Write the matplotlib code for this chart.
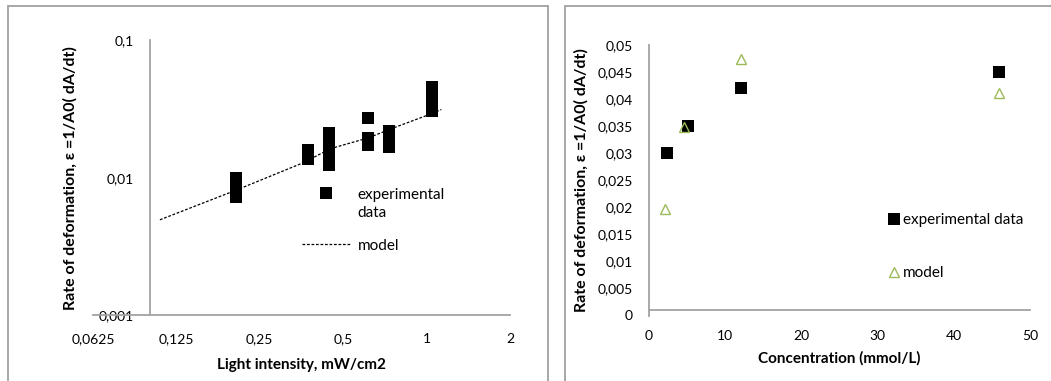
import matplotlib
matplotlib.use("Agg")
import matplotlib.pyplot as plt
from matplotlib.lines import Line2D
from matplotlib.patches import Rectangle

plt.rcParams['font.family'] = ['Lato', 'DejaVu Sans']
plt.rcParams['font.size'] = 10

# ---- Left panel: rate of deformation vs light intensity (log-log) ----
intensity_exp = [0.205, 0.205, 0.205,
                 0.373, 0.373,
                 0.446, 0.446, 0.446, 0.446,
                 0.616, 0.616, 0.616,
                 0.732, 0.732, 0.732,
                 1.05, 1.05, 1.05, 1.05]
rate_exp = [0.00988, 0.00846, 0.00723,
            0.0159, 0.0138,
            0.0212, 0.0180, 0.0147, 0.0124,
            0.0271, 0.0195, 0.0172,
            0.0220, 0.0193, 0.0168,
            0.0461, 0.0404, 0.0352, 0.0307]

intensity_model = [0.109, 0.205, 0.36, 0.45, 0.62, 0.73, 1.0, 1.13]
rate_model = [0.00494, 0.00811, 0.0129, 0.0163, 0.0196, 0.0224, 0.0284, 0.0314]

intensity_ticks = [0.0625, 0.125, 0.25, 0.5, 1, 2]
intensity_ticklabels = ['0,0625', '0,125', '0,25', '0,5', '1', '2']
rate_log_ticks = [0.001, 0.01, 0.1]
rate_log_ticklabels = ['0,001', '0,01', '0,1']

# ---- Right panel: rate of deformation vs concentration ----
conc_exp = [2.4, 5.15, 12.1, 46.0]
rate_conc_exp = [0.0300, 0.0350, 0.0420, 0.0451]
conc_model = [2.1, 4.7, 12.1, 46.0]
rate_conc_model = [0.0196, 0.0349, 0.0474, 0.0411]

conc_ticks = [0, 10, 20, 30, 40, 50]
rate_lin_ticks = [0, 0.005, 0.01, 0.015, 0.02, 0.025, 0.03, 0.035, 0.04, 0.045, 0.05]
rate_lin_ticklabels = ['0', '0,005', '0,01', '0,015', '0,02', '0,025', '0,03',
                       '0,035', '0,04', '0,045', '0,05']

ylabel_text = 'Rate of deformation, ε =1/A0( dA/dt)'
AXIS_GRAY = '#a3a3a3'
FRAME_GRAY = '#a0a0a0'
MODEL_GREEN = '#9bbb59'
LABEL_SIZE = 11
LEGEND_SIZE = 11

W, H = 1051, 381
fig = plt.figure(figsize=(W / 100, H / 100), dpi=100)

# chart area frames
fig.patches.append(Rectangle((7.5 / W, -0.1), (547.5 - 7.5) / W, 1.1 - 6.5 / H,
                             transform=fig.transFigure, fill=False,
                             edgecolor=FRAME_GRAY, lw=1.3))
fig.patches.append(Rectangle((565 / W, -0.1), 1.0, 1.1 - 6.5 / H,
                             transform=fig.transFigure, fill=False,
                             edgecolor=FRAME_GRAY, lw=1.3))

# ---------------- left axes ----------------
LH = 315 - 40.5
LW = 510 - 93
axL = fig.add_axes([93 / W, 1 - 315 / H, LW / W, LH / H])
axL.set_xscale('log', base=2)
axL.set_yscale('log')
axL.set_xlim(0.0625, 2)
axL.set_ylim(0.001, 0.1)
axL.patch.set_alpha(0)
for s in ('top', 'right'):
    axL.spines[s].set_visible(False)
axL.spines['left'].set_position(('data', 0.1))
for s in ('left', 'bottom'):
    axL.spines[s].set_color(AXIS_GRAY)
    axL.spines[s].set_linewidth(1.3)
axL.set_xticks(intensity_ticks)
axL.set_xticklabels(intensity_ticklabels)
axL.set_yticks(rate_log_ticks)
axL.set_yticklabels(rate_log_ticklabels)
axL.minorticks_off()
axL.tick_params(axis='x', length=0, pad=13)
axL.tick_params(axis='y', length=0, pad=11.5)

axL.plot(intensity_model, rate_model, ls=(0, (2.2, 1.4)), color='black', lw=0.9,
         zorder=2)
axL.plot(intensity_exp, rate_exp, ls='none', marker='s', ms=8.8, color='black',
         mew=0, zorder=3)

axL.set_xlabel('Light intensity, mW/cm2', fontweight='bold', fontsize=LABEL_SIZE)
axL.xaxis.set_label_coords(0.5, -(357.5 - 315) / LH)
axL.set_ylabel(ylabel_text, fontweight='bold', fontsize=LABEL_SIZE + 0.5)
axL.yaxis.set_label_coords((78 - 93) / LW, 0.5)

hL = [Line2D([], [], ls='none', marker='s', ms=8.8, color='black', mew=0),
      Line2D([], [], ls=(0, (2.2, 1.4)), color='black', lw=0.9)]
legL = axL.legend(hL, ['experimental\ndata', 'model'], loc='upper left',
                  bbox_to_anchor=(302 / W, 1 - 188 / H),
                  bbox_transform=fig.transFigure, frameon=False, borderpad=0,
                  borderaxespad=0, handlelength=3.2, handletextpad=0.45,
                  labelspacing=1.25, fontsize=LEGEND_SIZE)
legL.get_texts()[0].set_linespacing(1.35)
for col in legL._legend_handle_box.get_children():
    for item in col.get_children():
        item.align = 'top'

# ---------------- right axes ----------------
RH = 315.5 - 45
RW = 1030 - 648.5
axR = fig.add_axes([648.5 / W, 1 - 315.5 / H, RW / W, RH / H])
axR.set_xlim(0, 50)
axR.set_ylim(0, 0.05)
axR.patch.set_alpha(0)
for s in ('top', 'right'):
    axR.spines[s].set_visible(False)
axR.spines['bottom'].set_position(('data', 0.001))
for s in ('left', 'bottom'):
    axR.spines[s].set_color(AXIS_GRAY)
    axR.spines[s].set_linewidth(1.3)
axR.set_xticks(conc_ticks)
axR.set_xticklabels([str(t) for t in conc_ticks])
axR.set_yticks(rate_lin_ticks)
axR.set_yticklabels(rate_lin_ticklabels)
axR.tick_params(axis='x', length=0, pad=14)
axR.tick_params(axis='y', length=0, pad=11.5)

axR.plot(conc_exp, rate_conc_exp, ls='none', marker='s', ms=8.8, color='black',
         mew=0, zorder=3)
axR.plot(conc_model, rate_conc_model, ls='none', marker='^', ms=7,
         markerfacecolor='none', markeredgecolor=MODEL_GREEN, mew=1.0, zorder=4)

axR.set_xlabel('Concentration (mmol/L)', fontweight='bold', fontsize=LABEL_SIZE)
axR.xaxis.set_label_coords(0.5, -(351 - 315.5) / RH)
axR.set_ylabel(ylabel_text, fontweight='bold', fontsize=LABEL_SIZE + 0.5)
axR.yaxis.set_label_coords((589 - 648.5) / RW, 0.5)

hR = [Line2D([], [], ls='none', marker='s', ms=8.8, color='black', mew=0),
      Line2D([], [], ls='none', marker='^', ms=7, markerfacecolor='none',
             markeredgecolor=MODEL_GREEN, mew=1.0)]
axR.legend(hR, ['experimental data', 'model'], loc='upper left',
           bbox_to_anchor=(889 / W, 1 - 213 / H), bbox_transform=fig.transFigure,
           frameon=False, borderpad=0, borderaxespad=0, handlelength=0.6,
           handletextpad=0.3, labelspacing=2.55, fontsize=LEGEND_SIZE)

fig.savefig('out.png', dpi=100)
